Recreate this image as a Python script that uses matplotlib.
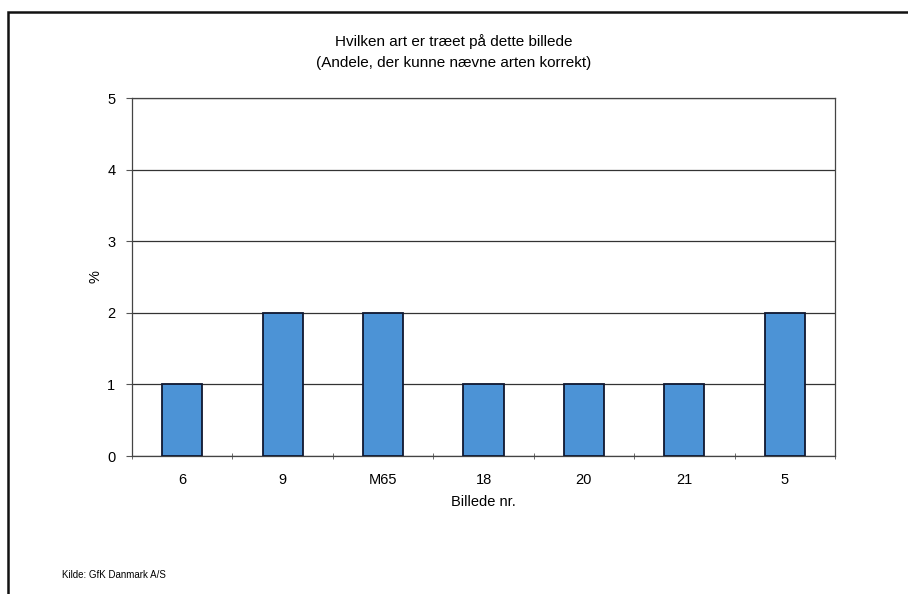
import matplotlib
matplotlib.use("Agg")
import matplotlib.pyplot as plt
from matplotlib.patches import Rectangle
import numpy as np

plt.rcParams['font.family'] = ['Liberation Sans', 'DejaVu Sans']

categories = ["6", "9", "M65", "18", "20", "21", "5"]
values = [1, 2, 2, 1, 1, 1, 2]
yticks = [0, 1, 2, 3, 4, 5]

title = "Hvilken art er træet på dette billede\n(Andele, der kunne nævne arten korrekt)"
xlabel = "Billede nr."
ylabel = "%"
source = "Kilde: GfK Danmark A/S"

fig = plt.figure(figsize=(9.08, 5.94), dpi=100)
ax = fig.add_axes([0.1454, 0.2323, 0.9196 - 0.1454, 0.835 - 0.2323])

x = np.arange(len(categories))
ax.bar(x, values, width=0.4, color="#4c93d6", edgecolor="#101830", linewidth=1.3, zorder=3)

ax.set_xlim(-0.5, len(categories) - 0.5)
ax.set_ylim(0, 5)
ax.set_yticks(yticks)
ax.set_yticklabels([str(t) for t in yticks], fontsize=10.5)
ax.set_xticks(x)
ax.set_xticklabels(categories, fontsize=10.5)
ax.tick_params(axis='x', length=0, pad=12)
ax.set_xticks(np.arange(-0.5, len(categories), 1), minor=True)
ax.tick_params(axis='x', which='minor', length=4, direction='inout', color='#555555')
ax.tick_params(axis='y', length=4, direction='out', color='#555555', pad=8)

ax.yaxis.grid(True, color="#333333", linewidth=0.9, zorder=0)
for s in ax.spines.values():
    s.set_color("#444444")
    s.set_linewidth(0.9)

ax.set_xlabel(xlabel, fontsize=10.5, labelpad=6)
ax.set_ylabel(ylabel, fontsize=10.5, labelpad=3)

fig.text(0.5, 1 - 52 / 594, title, ha="center", va="center", fontsize=11, linespacing=1.55)
fig.text(62 / 908, 1 - 575 / 594, source, ha="left", va="center", fontsize=7)

# page frame
fig.add_artist(Rectangle((8 / 908, -0.05), 1.1, 1 - 12 / 594 + 0.05, transform=fig.transFigure,
                         fill=False, edgecolor="#111111", linewidth=1.8, clip_on=False))

fig.savefig("out.png", dpi=100)
